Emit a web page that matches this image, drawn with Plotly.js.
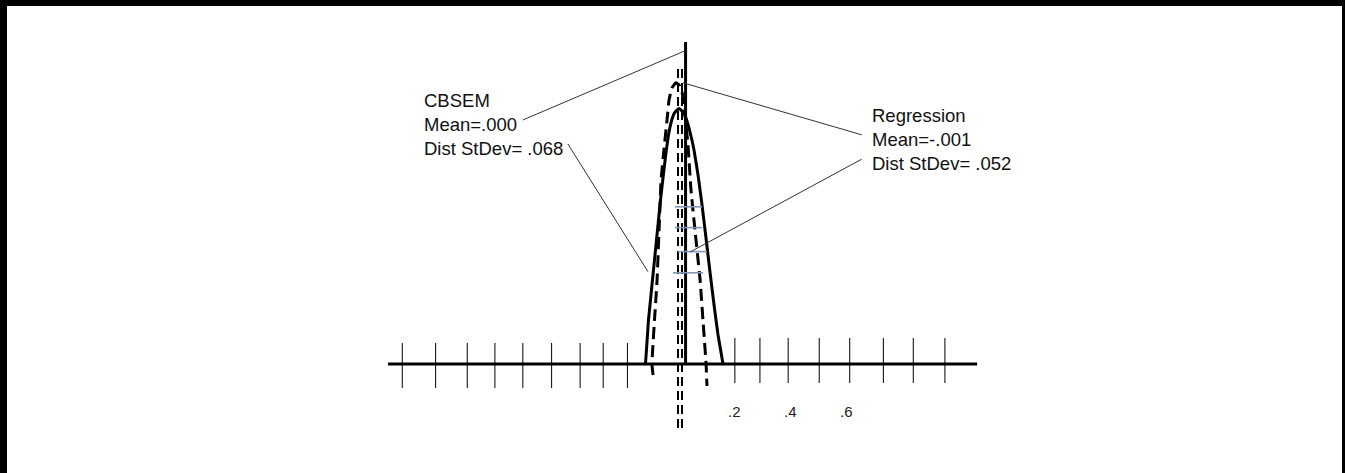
<!DOCTYPE html>
<html>
<head>
<meta charset="utf-8">
<script src="https://cdn.plot.ly/plotly-3.0.1.min.js"></script>
<style>html,body{margin:0;padding:0;background:#fff;}#chart{width:1345px;height:473px;}</style>
</head>
<body>
<div id="chart"></div>
<script>
// ---- data (x in score units, y in relative density units) ----
const cbsemX = [-0.1316, -0.1263, -0.1211, -0.1140, -0.1053, -0.0965, -0.0877, -0.0789, -0.0702, -0.0614, -0.0526, -0.0421, -0.0298, -0.0140,
                0.0, 0.0105, 0.0246, 0.0386, 0.0526, 0.0667, 0.0807, 0.0947, 0.1088, 0.1228, 0.1404];
const cbsemY = [0, 0.55, 1.1, 1.6, 2.23, 2.85, 3.48, 4.1, 4.65, 5.18, 5.65, 6.03, 6.28, 6.39,
                6.3, 6.15, 5.8, 5.35, 4.73, 3.98, 3.15, 2.3, 1.48, 0.73, 0];

const regX = [-0.105, -0.109, -0.100, -0.091, -0.084, -0.077, -0.067, -0.056, -0.049, -0.039, -0.025, -0.014, -0.0035, 0.0035, 0.0105, 0.0175, 0.028, 0.042, 0.060, 0.070, 0.081, 0.084];
const regY = [-0.275, 0, 1.1, 2.1, 3.35, 4.6, 5.35, 6.1, 6.6, 6.9, 7.03, 6.98, 6.8, 6.48, 5.98, 5.48, 4.35, 3.35, 2.1, 1.1, 0, -0.55];

const meanLineX = 0.009;          // solid reference line
const meanLineTop = 8.05;
const dashedMeanX = [-0.0175, -0.0035];
const dashedTop = 7.375, dashedBottom = -1.65;

const leftTicks = [-0.985, -0.868, -0.757, -0.660, -0.562, -0.461, -0.361, -0.280, -0.195];
const rightTicks = [0.182, 0.270, 0.369, 0.478, 0.585, 0.703, 0.808, 0.919];
const axisStart = -1.035, axisEnd = 1.032;

const tickLabelText = [".2", ".4", ".6"];
const tickLabelX = [0.151, 0.347, 0.544];

const bandY = [3.93, 3.41, 2.81, 2.28];
const bandX0 = [-0.028, -0.028, -0.0175, -0.035];
const bandX1 = [0.067, 0.067, 0.084, 0.070];

const cbsemLabel = ["CBSEM", "Mean=.000", "Dist StDev= .068"];
const regLabel = ["Regression", "Mean=-.001", "Dist StDev= .052"];

// leader lines: [text end, curve end]
const leaders = [
  {x: [-0.562, 0.007], y: [6.1, 7.83]},
  {x: [-0.404, -0.123], y: [5.5, 2.31]},
  {x: [0.627, 0.0], y: [5.73, 7.03]},
  {x: [0.627, 0.025], y: [5.12, 2.8]}
];

// ---- build traces ----
const traces = [];
// horizontal axis
traces.push({x: [axisStart, axisEnd], y: [0, 0], mode: 'lines', line: {color: '#000', width: 3}, hoverinfo: 'skip'});
// ticks
const tx = [], ty = [];
leftTicks.forEach(t => { tx.push(t, t, null); ty.push(0.525, -0.6, null); });
rightTicks.forEach(t => { tx.push(t, t, null); ty.push(0.65, -0.475, null); });
traces.push({x: tx, y: ty, mode: 'lines', line: {color: '#000', width: 1}, hoverinfo: 'skip'});
// dashed mean lines
dashedMeanX.forEach(v => traces.push({x: [v, v], y: [dashedTop, dashedBottom], mode: 'lines', line: {color: '#000', width: 2, dash: '9px,5px'}, hoverinfo: 'skip'}));
// solid mean line
traces.push({x: [meanLineX, meanLineX], y: [meanLineTop, 0], mode: 'lines', line: {color: '#000', width: 3}, hoverinfo: 'skip'});
// CBSEM curve (solid)
traces.push({x: cbsemX, y: cbsemY, mode: 'lines', line: {color: '#000', width: 3, shape: 'spline', smoothing: 0.3}, hoverinfo: 'skip'});
// Regression curve (dashed)
traces.push({x: regX, y: regY, mode: 'lines', line: {color: '#000', width: 3, dash: '12px,6px', shape: 'spline', smoothing: 0.3}, hoverinfo: 'skip'});
// blue-gray bands
const bx = [], by = [];
bandY.forEach((v, i) => { bx.push(bandX0[i], bandX1[i], null); by.push(v, v, null); });
traces.push({x: bx, y: by, mode: 'lines', line: {color: '#8096b8', width: 1.6}, hoverinfo: 'skip'});
// leaders
leaders.forEach(l => traces.push({x: l.x, y: l.y, mode: 'lines', line: {color: '#333', width: 1}, hoverinfo: 'skip'}));

const font = {family: 'Liberation Sans, Arial, sans-serif', size: 18.5, color: '#111'};
const annotations = [
  {x: -0.916, y: 6.9, xref: 'x', yref: 'y', xanchor: 'left', yanchor: 'top', align: 'left', showarrow: false, text: cbsemLabel.join('<br>'), font: font},
  {x: 0.656, y: 6.52, xref: 'x', yref: 'y', xanchor: 'left', yanchor: 'top', align: 'left', showarrow: false, text: regLabel.join('<br>'), font: font}
];
tickLabelText.forEach((t, i) => annotations.push({x: tickLabelX[i], y: -1.19, xref: 'x', yref: 'y', xanchor: 'left', yanchor: 'middle', showarrow: false, text: t, font: {family: 'Liberation Sans, Arial, sans-serif', size: 15, color: '#222'}}));

const W = 1345, H = 473;
const layout = {
  width: W, height: H,
  margin: {l: 0, r: 0, t: 0, b: 0},
  paper_bgcolor: '#fff', plot_bgcolor: '#fff',
  showlegend: false,
  xaxis: {visible: false, range: [-683 / 285, (W - 683) / 285], fixedrange: true},
  yaxis: {visible: false, range: [-(H - 364) / 40, 364 / 40], fixedrange: true},
  annotations: annotations,
  shapes: [
    {type: 'rect', xref: 'paper', yref: 'paper', x0: 0, x1: 1, y0: 1 - 6 / H, y1: 1, fillcolor: '#000', line: {width: 0}},
    {type: 'rect', xref: 'paper', yref: 'paper', x0: 0, x1: 7 / W, y0: 0, y1: 1, fillcolor: '#000', line: {width: 0}},
    {type: 'rect', xref: 'paper', yref: 'paper', x0: 1 - 3 / W, x1: 1, y0: 0, y1: 1, fillcolor: '#000', line: {width: 0}}
  ]
};
Plotly.newPlot('chart', traces, layout, {staticPlot: true, displayModeBar: false});
</script>
</body>
</html>
